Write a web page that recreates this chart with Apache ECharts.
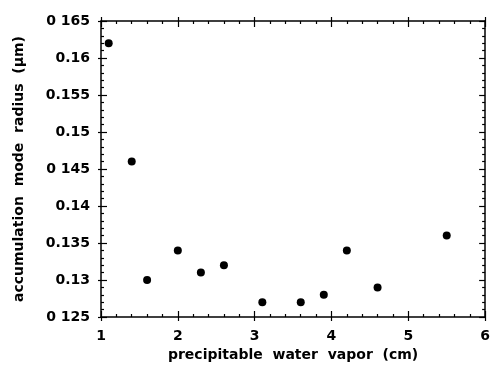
<!DOCTYPE html>
<html>
<head>
<meta charset="utf-8">
<script src="https://cdn.jsdelivr.net/npm/echarts@6/dist/echarts.min.js"></script>
<style>
html,body{margin:0;padding:0;background:#fff;}
#c{width:493px;height:368px;}
</style>
</head>
<body>
<div id="c"></div>
<script>
var waterVapor = [1.1, 1.4, 1.6, 2.0, 2.3, 2.6, 3.1, 3.6, 3.9, 4.2, 4.6, 5.5];
var modeRadius = [0.162, 0.146, 0.130, 0.134, 0.131, 0.132, 0.127, 0.127, 0.128, 0.134, 0.129, 0.136];
var yTickLabels = ["0 125", "0.13", "0.135", "0.14", "0 145", "0.15", "0.155", "0.16", "0 165"];
var xTickLabels = ["1", "2", "3", "4", "5", "6"];
var xTitle = "precipitable  water  vapor  (cm)";
var yTitle = "accumulation  mode  radius  (\u03bcm)";

var FONT = "DejaVu Sans";
var lineStyle = {color: "#000", width: 1.5};
var pts = waterVapor.map(function (x, i) { return [x, modeRadius[i]]; });

var chart = echarts.init(document.getElementById("c"), null, {renderer: "canvas"});
function baseX(pos) {
  return {
    type: "value", position: pos, min: 1, max: 6, interval: 1,
    axisLine: {show: true, lineStyle: lineStyle},
    axisTick: {show: true, inside: true, length: 6, lineStyle: {color: "#000", width: 1.2}},
    minorTick: {show: true, splitNumber: 5, length: 3, lineStyle: {color: "#000", width: 1.2}},
    splitLine: {show: false},
    axisLabel: {show: false}
  };
}
function baseY(pos) {
  return {
    type: "value", position: pos, min: 0.125, max: 0.165, interval: 0.005,
    axisLine: {show: true, lineStyle: lineStyle},
    axisTick: {show: true, inside: true, length: 6, lineStyle: {color: "#000", width: 1.2}},
    minorTick: {show: true, splitNumber: 5, length: 3, lineStyle: {color: "#000", width: 1.2}},
    splitLine: {show: false},
    axisLabel: {show: false}
  };
}
var xb = baseX("bottom");
xb.axisLabel = {show: true, margin: 12, color: "#000", fontFamily: FONT, fontWeight: "bold", fontSize: 14,
  formatter: function (v) { return xTickLabels[Math.round(v - 1)]; }};
xb.name = xTitle;
xb.nameLocation = "middle";
xb.nameGap = 30;
xb.nameTextStyle = {color: "#000", fontFamily: FONT, fontWeight: "bold", fontSize: 14};
var xbOut = baseX("bottom");
xbOut.axisLine = {show: false};
xbOut.axisTick = {show: true, inside: false, length: 4, lineStyle: {color: "#000", width: 1.2}};
xbOut.minorTick = {show: false};
var xt = baseX("top");
var xtOut = baseX("top");
xtOut.axisLine = {show: false};
xtOut.axisTick = {show: true, inside: false, length: 4, lineStyle: {color: "#000", width: 1.2}};
xtOut.minorTick = {show: false};

var yl = baseY("left");
yl.axisLabel = {show: true, margin: 11, color: "#000", fontFamily: FONT, fontWeight: "bold", fontSize: 14,
  formatter: function (v) { return yTickLabels[Math.round((v - 0.125) / 0.005)]; }};
yl.name = yTitle;
yl.nameLocation = "middle";
yl.nameGap = 75;
yl.nameTextStyle = {color: "#000", fontFamily: FONT, fontWeight: "bold", fontSize: 14};
var ylOut = baseY("left");
ylOut.axisLine = {show: false};
ylOut.axisTick = {show: true, inside: false, length: 3, lineStyle: {color: "#000", width: 1.2}};
ylOut.minorTick = {show: false};
var yr = baseY("right");

chart.setOption({
  animation: false,
  backgroundColor: "#fff",
  grid: {left: 101, right: 5, top: 21, bottom: 51, containLabel: false},
  xAxis: [xb, xbOut, xt, xtOut],
  yAxis: [yl, ylOut, yr],
  series: [{
    type: "scatter", xAxisIndex: 0, yAxisIndex: 0,
    symbol: "circle", symbolSize: 8,
    itemStyle: {color: "#000", opacity: 1},
    data: pts
  }]
});
</script>
</body>
</html>
